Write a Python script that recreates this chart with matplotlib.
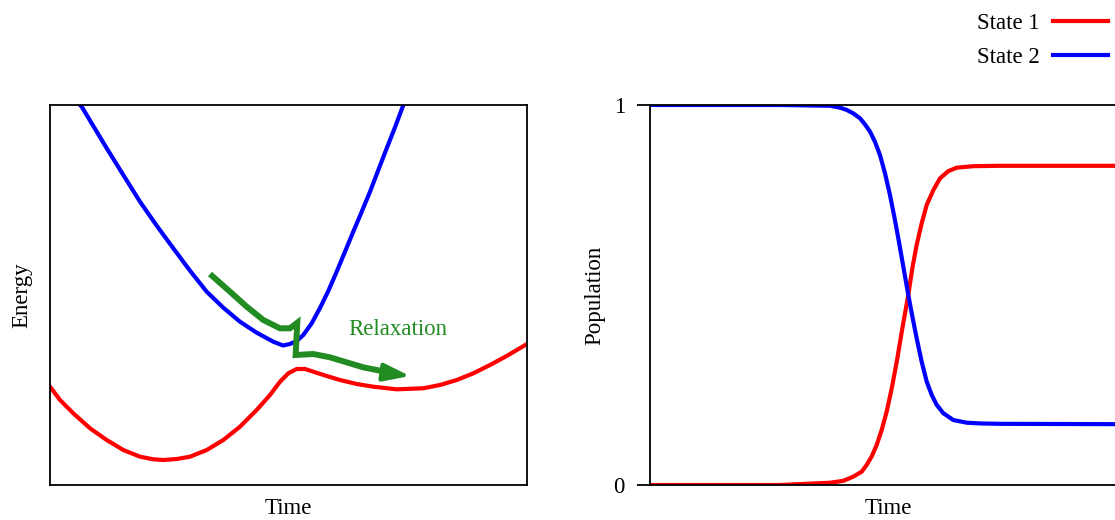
import matplotlib
matplotlib.use("Agg")
import matplotlib.pyplot as plt

plt.rcParams['font.family'] = ['Liberation Serif', 'DejaVu Serif']

# ---- Left panel data (Energy vs Time) ----
blue_x = [0.629, 0.665, 1.189, 1.537, 1.887, 2.237, 2.585, 2.935, 3.285, 3.633, 3.983, 4.333,
          4.681, 4.885, 5.031, 5.172, 5.310, 5.486, 5.660, 5.834, 6.010, 6.184, 6.358, 6.535,
          6.709, 6.883, 7.059, 7.233, 7.394, 7.411]
blue_y = [10.0, 9.955, 8.861, 8.158, 7.455, 6.824, 6.229, 5.639, 5.087, 4.666, 4.297, 4.008,
          3.771, 3.671, 3.711, 3.789, 3.947, 4.255, 4.658, 5.105, 5.613, 6.139, 6.666, 7.192,
          7.718, 8.289, 8.861, 9.413, 9.955, 10.03]

red_x = [0.0, 0.210, 0.488, 0.839, 1.189, 1.537, 1.887, 2.166, 2.375, 2.656, 2.935, 3.285,
         3.633, 3.983, 4.333, 4.612, 4.822, 4.996, 5.172, 5.346, 5.520, 5.801, 6.080, 6.430,
         6.778, 7.268, 7.826, 8.176, 8.526, 8.874, 9.224, 9.574, 10.0]
red_y = [2.587, 2.237, 1.887, 1.492, 1.184, 0.921, 0.745, 0.676, 0.658, 0.684, 0.745, 0.921,
         1.184, 1.534, 1.974, 2.368, 2.718, 2.939, 3.053, 3.053, 2.982, 2.868, 2.763, 2.658,
         2.587, 2.518, 2.545, 2.632, 2.763, 2.939, 3.158, 3.395, 3.711]

green_x = [3.354, 3.774, 4.123, 4.472, 4.822, 5.031, 5.184, 5.150, 5.520, 5.870, 6.220,
           6.569, 6.918, 7.128]
green_y = [5.553, 5.087, 4.693, 4.342, 4.123, 4.123, 4.271, 3.421, 3.447, 3.360, 3.228,
           3.096, 3.009, 2.939]
arrow_tip = (7.547, 2.868)

# ---- Right panel data (Population vs Time) ----
t2 = [0.0, 2.725, 3.774, 3.983, 4.123, 4.262, 4.403, 4.507, 4.612, 4.717, 4.822, 4.927,
      5.031, 5.122, 5.206, 5.310, 5.415, 5.507, 5.591, 5.696, 5.801, 5.906, 6.010, 6.149,
      6.358, 6.639, 6.918, 7.338, 10.0]
state2 = [1.0, 1.0, 0.998, 0.993, 0.987, 0.978, 0.965, 0.949, 0.930, 0.903, 0.868, 0.820,
          0.763, 0.706, 0.649, 0.575, 0.5, 0.439, 0.386, 0.324, 0.272, 0.237, 0.211, 0.189,
          0.171, 0.164, 0.162, 0.161, 0.16]
t1 = [0.0, 2.725, 3.774, 4.053, 4.262, 4.437, 4.543, 4.647, 4.752, 4.857, 4.962, 5.067,
      5.172, 5.290, 5.415, 5.499, 5.591, 5.696, 5.801, 5.940, 6.080, 6.254, 6.430, 6.778,
      7.338, 10.0]
state1 = [0.0, 0.0, 0.006, 0.011, 0.022, 0.035, 0.053, 0.075, 0.105, 0.145, 0.193, 0.254,
          0.324, 0.412, 0.5, 0.570, 0.632, 0.689, 0.737, 0.776, 0.807, 0.826, 0.835, 0.839,
          0.84, 0.84]

labels = ["State 1", "State 2"]

W, H = 1115, 520
FS = 16.5
fig = plt.figure(figsize=(W / 100, H / 100), dpi=100)

ax1 = fig.add_axes([50 / W, 35 / H, 477 / W, 380 / H])
ax2 = fig.add_axes([650 / W, 35 / H, 477 / W, 380 / H])

RED = '#ff0000'
BLUE = '#0000ff'
GREEN = '#228b22'

ax1.plot(blue_x, blue_y, color=BLUE, lw=3, solid_joinstyle='round')
ax1.plot(red_x, red_y, color=RED, lw=3, solid_joinstyle='round')
ax1.plot(green_x, green_y, color=GREEN, lw=4.3, solid_capstyle='butt', solid_joinstyle='miter')
ax1.annotate('', xy=arrow_tip, xytext=(green_x[-1], green_y[-1]),
             arrowprops=dict(arrowstyle='-|>,head_length=0.8,head_width=0.27',
                             color=GREEN, lw=3, mutation_scale=20, shrinkA=0, shrinkB=0))
ax1.text(6.25, 4.08, 'Relaxation', color=GREEN, fontsize=FS, ha='left', va='center')
ax1.set_xlim(0, 10)
ax1.set_ylim(0, 10)
ax1.set_xticks([])
ax1.set_yticks([])
ax1.set_xlabel('Time', fontsize=FS, labelpad=9.5)
ax1.set_ylabel('Energy', fontsize=FS, labelpad=13)

l1, = ax2.plot(t1, state1, color=RED, lw=3, solid_joinstyle='round')
l2, = ax2.plot(t2, state2, color=BLUE, lw=3, solid_joinstyle='round')
ax2.set_xlim(0, 10)
ax2.set_ylim(0, 1)
ax2.set_xticks([])
ax2.set_yticks([0, 1])
ax2.set_yticklabels(['0', '1'])
ax2.tick_params(axis='y', direction='out', length=9.5, width=1.3, labelsize=FS, pad=8.5)
ax2.set_xlabel('Time', fontsize=FS, labelpad=9.5)
ax2.set_ylabel('Population', fontsize=FS, labelpad=6)

for ax in (ax1, ax2):
    for s in ax.spines.values():
        s.set_linewidth(1.3)

fig.legend([l1, l2], labels, loc='upper right', bbox_to_anchor=(1124 / W, 1.005),
           frameon=False, markerfirst=False, fontsize=FS, handlelength=2.4,
           handletextpad=0.57, labelspacing=0.55, borderaxespad=0.3)

fig.savefig('out.png', dpi=100)
